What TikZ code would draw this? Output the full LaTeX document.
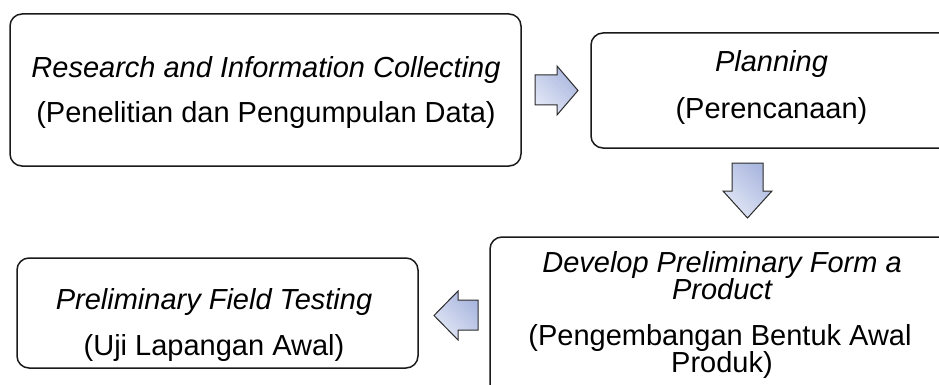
\documentclass[tikz,border=0pt]{standalone}
\usepackage{fontspec}
\setmainfont{Liberation Sans}
\definecolor{boxline}{HTML}{1A1A1A}
\definecolor{arrowlight}{HTML}{E2E7F6}
\definecolor{arrowdark}{HTML}{A9B6DE}
\definecolor{arrowline}{HTML}{2B2B2B}
\tikzset{
  stagebox/.style={draw=boxline, line width=1.5pt, rounded corners=12pt, rectangle, fill=white, inner sep=0pt},
  linetext/.style={anchor=base, inner sep=0pt, font=\fontsize{29}{25.5}\selectfont},
  engtext/.style={linetext, font=\fontsize{29}{25.5}\selectfont\itshape},
  blockarrow/.style={draw=arrowline, line width=1pt, line join=miter,
    left color=arrowlight, right color=arrowdark, shading angle=135}
}
\begin{document}
\begin{tikzpicture}[x={(1pt,0pt)}, y={(0pt,-1pt)}]
\useasboundingbox (0,0) rectangle (939,385);
\clip (0,0) rectangle (939,385);
\fill[white] (0,0) rectangle (939,385);
% boxes
\node[stagebox, minimum width=511pt, minimum height=152pt] (b1) at (265.5,90) {};
\node[stagebox, minimum width=361pt, minimum height=115pt] (b2) at (771.5,90.5) {};
\node[stagebox, minimum width=466pt, minimum height=170pt] (b3) at (723,322) {};
\node[stagebox, minimum width=401pt, minimum height=110pt] (b4) at (217.5,313) {};
% texts
\node[engtext] (t1a) at (266,78) {Research and Information Collecting};
\node[linetext] (t1b) at (266,123) {(Penelitian dan Pengumpulan Data)};
\node[engtext] (t2a) at (771.5,72) {Planning};
\node[linetext] (t2b) at (771.5,119) {(Perencanaan)};
\node[engtext] (t3a) at (722,272) {Develop Preliminary Form a};
\node[engtext] (t3b) at (722,299.5) {Product};
\node[linetext] (t3c) at (720,345) {(Pengembangan Bentuk Awal};
\node[linetext] (t3d) at (722,372.5) {Produk)};
\node[engtext] (t4a) at (214,309) {Preliminary Field Testing};
\node[linetext] (t4b) at (214,355) {(Uji Lapangan Awal)};
% block arrows
\path[blockarrow] (535,75) -- (557,75) -- (557,66) -- (578,90.5) -- (557,115) -- (557,105) -- (535,105) -- cycle;
\path[blockarrow] (732,163) -- (763,163) -- (763,191) -- (772,191) -- (747.5,218) -- (723,191) -- (732,191) -- cycle;
\path[blockarrow] (478,300) -- (458,300) -- (458,291) -- (434,315.5) -- (458,340) -- (458,330) -- (478,330) -- cycle;
\end{tikzpicture}
\end{document}
